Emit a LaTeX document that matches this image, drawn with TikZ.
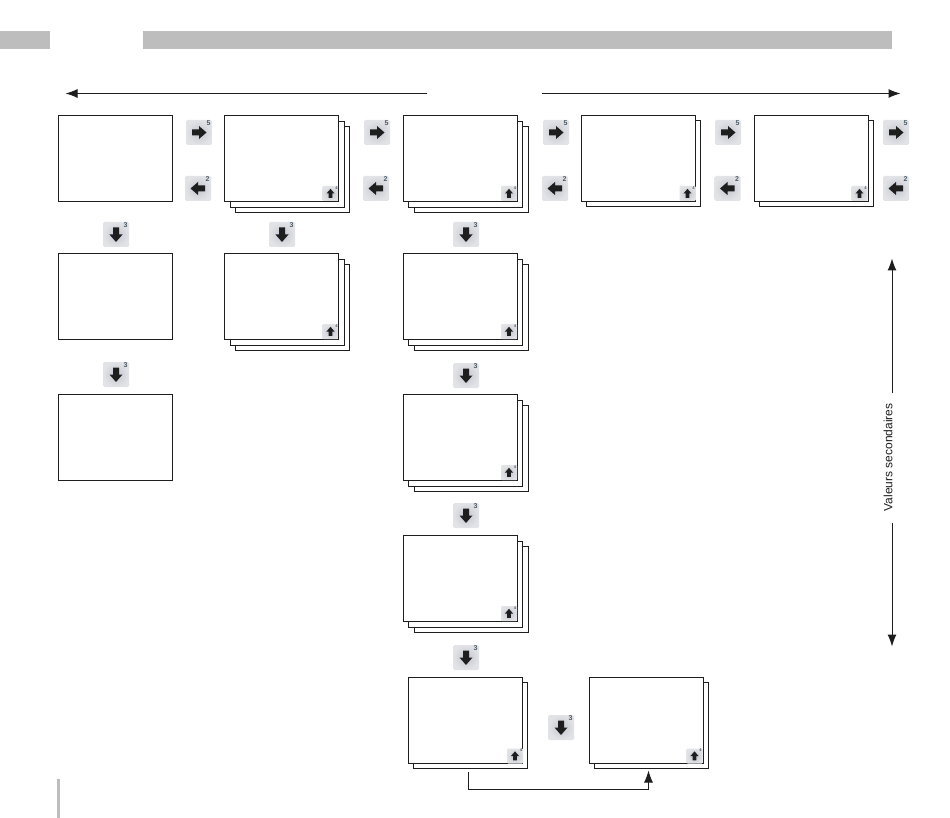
\documentclass[tikz,border=0pt]{standalone}
\usepackage{fontspec}
\setmainfont{Liberation Sans}
\usetikzlibrary{arrows.meta}
\definecolor{barre}{HTML}{BDBDBD}
\definecolor{encre}{HTML}{1E1E1E}
\definecolor{chiffre}{HTML}{4A5A66}
\definecolor{toucheint}{HTML}{C2C6CF}
\definecolor{toucheext}{HTML}{E2E3E6}
\tikzset{
  ecran/.style={draw=encre,fill=white,line width=1pt,rectangle,inner sep=0pt,outer sep=0pt,
    minimum width=114pt,minimum height=86pt,anchor=north west},
  touche/.style={rectangle,rounded corners=1.5pt,inner sep=0pt,outer sep=0pt,
    minimum width=26pt,minimum height=25pt,inner color=toucheint,outer color=toucheext},
  minitouche/.style={rectangle,rounded corners=1pt,inner sep=0pt,outer sep=0pt,
    minimum width=16pt,minimum height=15pt,inner color=toucheint,outer color=toucheext},
  fleche/.style={-{Latex[length=12pt,width=9pt]},draw=encre,line width=1pt},
  chif/.style={inner sep=0pt,text=chiffre,font=\fontsize{7}{7}\selectfont\bfseries},
  petitchif/.style={inner sep=0pt,text=chiffre,font=\fontsize{4}{4}\selectfont\bfseries},
  zone/.style={fill=barre,draw=none,rectangle,inner sep=0pt,outer sep=0pt,anchor=north west},
}
% name, x, y, extra layers (0,1,2)
\newcommand{\scr}[4]{%
  \ifnum#4>1 \node[ecran] (#1c) at (#2+11.4,#3+11.4) {};\fi
  \ifnum#4=2 \node[ecran] (#1b) at (#2+5.7,#3+5.7) {};\fi
  \ifnum#4=1 \node[ecran] (#1b) at (#2+5.5,#3+5) {};\fi
  \node[ecran] (#1) at (#2,#3) {};
}
% arrow glyph at node: node, rotation, scale
\newcommand{\glyphe}[3]{%
  \begin{scope}[shift={(#1.center)},rotate=#2,scale=#3]
    \fill[encre] (-7,-3) -- (0,-3) -- (0,-6.5) -- (7.5,0) -- (0,6.5) -- (0,3) -- (-7,3) -- cycle;
  \end{scope}}
% name, cx, cy, rotation, digit
\newcommand{\ikon}[5]{%
  \node[touche] (#1) at (#2,#3) {};
  \glyphe{#1}{#4}{1}
  \node[chif] (#1n) at (#2+9.5,#3-9.5) {#5};
}
% small icon: name, cx, cy
\newcommand{\petit}[3]{%
  \node[minitouche] (#1) at (#2,#3) {};
  \glyphe{#1}{90}{0.62}
  \node[petitchif] (#1n) at (#2+6,#3-5.5) {4};
}
\begin{document}
\begin{tikzpicture}[x=1pt,y=-1pt]
\useasboundingbox (0,-0.5) rectangle (950,817.5);
\fill[white] (0,-0.5) rectangle (950,817.5);
\node[zone,minimum width=50pt,minimum height=18pt] (bar1) at (0,31) {};
\node[zone,minimum width=749pt,minimum height=18pt] (bar2) at (143,31) {};
\node[zone,minimum width=3pt,minimum height=40pt] (bar3) at (57,778) {};

% top arrows
\coordinate (hg) at (427,93); \coordinate (hgf) at (65.5,93);
\coordinate (hd) at (542,93); \coordinate (hdf) at (900.5,93);
\draw[fleche] (hg) -- (hgf);
\draw[fleche] (hd) -- (hdf);

% screens
\scr{a1}{58.5}{115}{0}
\scr{a2}{58.5}{253}{0}
\scr{a3}{58.5}{394}{0}
\scr{b1}{224.5}{115}{2}
\scr{b2}{224.5}{253}{2}
\scr{c1}{403}{115}{2}
\scr{c2}{403}{253}{2}
\scr{c3}{403}{394}{2}
\scr{c4}{403}{535}{2}
\scr{c5}{408.3}{677}{1}
\scr{e1}{589.3}{677}{1}
\scr{d1}{581}{115}{1}
\scr{f1}{754.3}{115}{1}

% small icons
\petit{pb1}{330.5}{193}
\petit{pb2}{330.5}{331}
\petit{pc1}{509}{193}
\petit{pc2}{509}{331}
\petit{pc3}{509}{472}
\petit{pc4}{509}{613}
\petit{pc5}{515}{755.5}
\petit{pe1}{694.5}{755.5}
\petit{pd1}{687.5}{193}
\petit{pf1}{859.5}{193}

% right keys
\ikon{r1}{199}{132}{0}{5}
\ikon{r2}{377}{132}{0}{5}
\ikon{r3}{556}{132}{0}{5}
\ikon{r4}{728}{132}{0}{5}
\ikon{r5}{896}{132}{0}{5}
% left keys
\ikon{l1}{198}{188}{180}{2}
\ikon{l2}{376}{188}{180}{2}
\ikon{l3}{555}{188}{180}{2}
\ikon{l4}{727.5}{188}{180}{2}
\ikon{l5}{896}{188}{180}{2}
% down keys
\ikon{k1}{116}{234}{-90}{3}
\ikon{k2}{282}{234}{-90}{3}
\ikon{k3}{466}{234}{-90}{3}
\ikon{k4}{116}{374}{-90}{3}
\ikon{k5}{466}{375}{-90}{3}
\ikon{k6}{466}{515}{-90}{3}
\ikon{k7}{466}{657}{-90}{3}
\ikon{k8}{561}{727}{-90}{3}

% link between last screens
\coordinate (ld) at (468.5,771.5);
\coordinate (lc) at (648.5,789);
\coordinate (lf) at (648.5,770);
\draw[fleche] (ld) |- (lc) -- (lf);

% right vertical arrows
\node[inner sep=0pt,rotate=90,font=\fontsize{12}{14}\selectfont,text=encre] (val) at (888,457) {Valeurs secondaires};
\coordinate (vh) at (892,392); \coordinate (vhf) at (892,258);
\coordinate (vb) at (892,522); \coordinate (vbf) at (892,646);
\draw[fleche] (vh) -- (vhf);
\draw[fleche] (vb) -- (vbf);
\end{tikzpicture}
\end{document}
